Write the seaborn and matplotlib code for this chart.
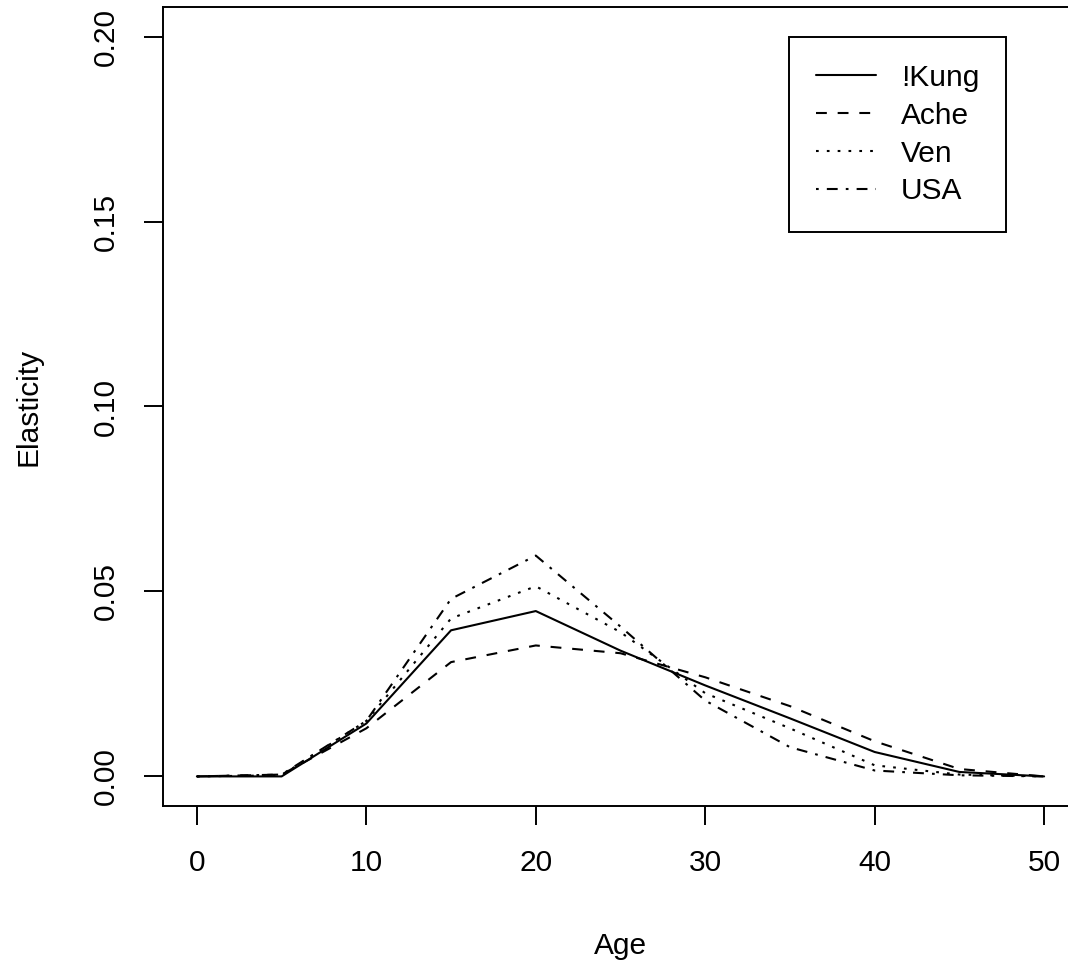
import matplotlib
matplotlib.use("Agg")
import matplotlib.pyplot as plt
import seaborn as sns
import numpy as np
import pandas as pd

ages = [0, 5, 10, 15, 20, 25, 30, 35, 40, 45, 50]
kung = [0.0, 0.0, 0.0143, 0.0395, 0.0447, 0.0340, 0.0246, 0.0157, 0.0066, 0.0012, 0.0]
ache = [0.0, 0.0005, 0.0130, 0.0309, 0.0354, 0.0333, 0.0268, 0.0190, 0.0095, 0.0020, 0.0]
ven = [0.0, 0.0003, 0.0150, 0.0427, 0.0514, 0.0390, 0.0225, 0.0130, 0.0030, 0.0005, 0.0]
usa = [0.0, 0.0005, 0.0150, 0.0480, 0.0597, 0.0405, 0.0205, 0.0079, 0.0016, 0.0003, 0.0]
series_names = ["!Kung", "Ache", "Ven", "USA"]
x_ticks = [0, 10, 20, 30, 40, 50]
y_ticks = [0.00, 0.05, 0.10, 0.15, 0.20]
y_tick_labels = ["0.00", "0.05", "0.10", "0.15", "0.20"]

sns.set_style("white")
plt.rcParams["font.family"] = ["Liberation Sans", "DejaVu Sans"]
plt.rcParams["lines.scale_dashes"] = False
plt.rcParams["text.color"] = "black"

u = 1.95  # dash unit in points
styles = {
    "!Kung": "-",
    "Ache": (0, (4 * u, 4 * u)),
    "Ven": (0, (1 * u, 3 * u)),
    "USA": (0, (1 * u, 3 * u, 4 * u, 3 * u)),
}

fig = plt.figure(figsize=(10.68, 9.63), dpi=100)
W, H = 1068, 963
ax = fig.add_axes([163 / W, 1 - 806 / H, (1078 - 163) / W, (806 - 7) / H])

values = {"!Kung": kung, "Ache": ache, "Ven": ven, "USA": usa}
for name in series_names:
    sns.lineplot(x=ages, y=values[name], ax=ax, color="black", linewidth=1.5,
                 linestyle=styles[name], label=name, legend=False)

ax.set_xlim(-2, 52)
ax.set_ylim(-0.008, 0.208)
ax.set_xticks(x_ticks)
ax.set_xticklabels([str(t) for t in x_ticks])
ax.set_yticks(y_ticks)
ax.set_yticklabels(y_tick_labels, rotation=90, va="center")
fs = 21.5
ax.tick_params(axis="both", direction="out", length=13.7, width=1.4, labelsize=fs,
               color="black", labelcolor="black", left=True, bottom=True)
ax.tick_params(axis="x", pad=17)
ax.tick_params(axis="y", pad=17)
for sp in ax.spines.values():
    sp.set_visible(True)
    sp.set_color("black")
    sp.set_linewidth(1.4)

ax.set_xlabel("Age", fontsize=fs, labelpad=40, color="black")
ax.set_ylabel("Elasticity", fontsize=fs, labelpad=36, color="black")

leg = ax.legend(loc="upper left", bbox_to_anchor=(789 / W, 1 - 37 / H),
                bbox_transform=fig.transFigure, borderaxespad=0, fontsize=fs,
                frameon=True, fancybox=False, edgecolor="black", framealpha=1,
                handlelength=2.0, handletextpad=0.85, labelspacing=0.33,
                borderpad=0.9)
leg.get_frame().set_linewidth(1.4)
for t in leg.get_texts():
    t.set_color("black")

fig.savefig("out.png", dpi=100)
